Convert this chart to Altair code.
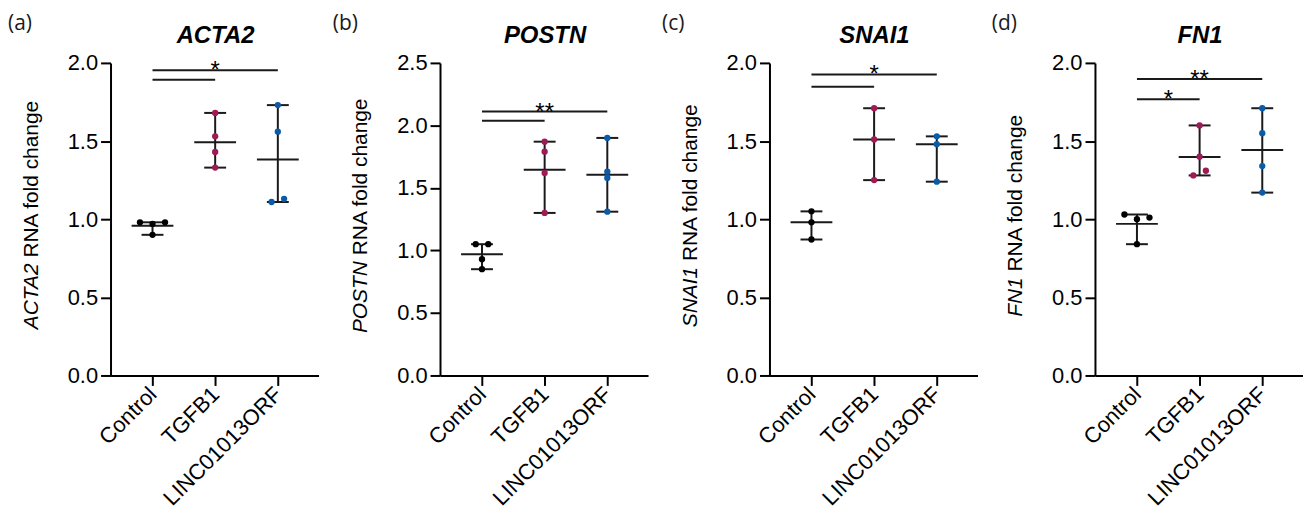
import altair as alt
import pandas as pd

# ---------------- data ----------------
categories = ["Control", "TGFB1", "LINC01013ORF"]
genes = ["ACTA2", "POSTN", "SNAI1", "FN1"]
panel_tags = ["(a)", "(b)", "(c)", "(d)"]
y_max = [2.0, 2.5, 2.0, 2.0]
y_step = [0.5, 0.5, 0.5, 0.5]

acta2_control = [0.98, 0.97, 0.98, 0.90]
acta2_tgfb1 = [1.68, 1.53, 1.43, 1.33]
acta2_linc = [1.73, 1.56, 1.11, 1.13]

postn_control = [1.05, 1.05, 0.93, 0.85]
postn_tgfb1 = [1.87, 1.79, 1.62, 1.30]
postn_linc = [1.90, 1.63, 1.58, 1.31]

snai1_control = [1.05, 0.98, 0.87]
snai1_tgfb1 = [1.71, 1.51, 1.25]
snai1_linc = [1.53, 1.48, 1.24]

fn1_control = [1.03, 1.00, 1.01, 0.84]
fn1_tgfb1 = [1.60, 1.40, 1.31, 1.28]
fn1_linc = [1.71, 1.55, 1.34, 1.17]

center_stat = ["mean", "mean", "median", "mean"]

# significance brackets (gene index, from group, to group, height, label)
sig_panel = [0, 0, 1, 1, 2, 2, 3, 3]
sig_from = [0, 0, 0, 0, 0, 0, 0, 0]
sig_to = [2, 1, 2, 1, 2, 1, 2, 1]
sig_height = [1.953, 1.893, 2.111, 2.038, 1.926, 1.847, 1.897, 1.767]
sig_label = ["*", "", "**", "", "*", "", "**", "*"]

values = [
    [acta2_control, acta2_tgfb1, acta2_linc],
    [postn_control, postn_tgfb1, postn_linc],
    [snai1_control, snai1_tgfb1, snai1_linc],
    [fn1_control, fn1_tgfb1, fn1_linc],
]

# ---------------- layout / style ----------------
W, H = 209, 314
X_DOMAIN = [-0.67, 2.65]
tag_dx = [-103, -107.7, -108, -103.6]
colors = ["#000000", "#9E1B56", "#0B5CA8"]
LINE = "#1a1a1a"
FONT = "Liberation Sans"
FS = 21

ARIAL = {"A": 667, "C": 722, "T": 611, "2": 556, "P": 667, "O": 778, "S": 667,
         "N": 722, "I": 278, "1": 556, "F": 611, "R": 722, " ": 278, "f": 278,
         "o": 556, "l": 222, "d": 556, "c": 500, "h": 556, "a": 556, "n": 556,
         "g": 556, "e": 556}


def text_w(s, fs):
    return sum(ARIAL.get(ch, 556) for ch in s) / 1000 * fs


def dodge(vals, px_per_unit, thr=5.5):
    order = sorted(range(len(vals)), key=lambda k: vals[k])
    offs = [0.0] * len(vals)
    clusters, cur = [], [order[0]]
    for a, b in zip(order, order[1:]):
        if (vals[b] - vals[a]) * px_per_unit < thr:
            cur.append(b)
        else:
            clusters.append(cur)
            cur = [b]
    clusters.append(cur)
    for cl in clusters:
        n = len(cl)
        if n == 2:
            pat = [-0.1, 0.1]
        elif n == 3:
            pat = [0.0, 0.2, -0.2]
        else:
            pat = [(j - (n - 1) / 2) * 0.2 for j in range(n)]
        for k, o in zip(cl, pat):
            offs[k] = o
    return offs


label_expr = " : ".join(
    f"datum.value == {i} ? '{c}'" for i, c in enumerate(categories[:-1])
) + f" : '{categories[-1]}'"


def make_panel(i):
    rows = []
    ppu = H / y_max[i]
    for g, vals in enumerate(values[i]):
        offs = dodge(vals, ppu)
        for v, o in zip(vals, offs):
            rows.append({"g": g, "cat": categories[g], "v": v, "xp": g + o})
    df = pd.DataFrame(rows)

    xs = alt.Scale(domain=X_DOMAIN, nice=False, zero=False)
    ticks = [round(k * y_step[i], 2) for k in range(int(round(y_max[i] / y_step[i])) + 1)]
    ys = alt.Scale(domain=[0, y_max[i]], nice=False, zero=True)
    xax = alt.Axis(values=[0, 1, 2], labelExpr=label_expr, title=None, labelAngle=-45,
                   labelAlign="right", labelBaseline="middle", labelFlush=False,
                   labelOverlap=False, labelPadding=5)
    yax = alt.Axis(values=ticks, format=".1f", title=None, labelFlush=False,
                   labelOverlap=False)

    def X(f):
        return alt.X(f, scale=xs, axis=xax)

    def Y(f):
        return alt.Y(f, scale=ys, axis=yax)

    base = alt.Chart(df)
    rng = base.mark_rule(strokeWidth=2, color=LINE).encode(
        x=X("g:Q"), y=Y("min(v):Q"), y2="max(v):Q")
    lo = base.mark_tick(orient="horizontal", size=22, thickness=2, color=LINE, opacity=1).encode(
        x=X("g:Q"), y=Y("min(v):Q"))
    hi = base.mark_tick(orient="horizontal", size=22, thickness=2, color=LINE, opacity=1).encode(
        x=X("g:Q"), y=Y("max(v):Q"))
    ctr = base.mark_tick(orient="horizontal", size=42, thickness=2, color=LINE, opacity=1).encode(
        x=X("g:Q"), y=Y(f"{center_stat[i]}(v):Q"))
    pts = base.mark_circle(size=40, opacity=1).encode(
        x=X("xp:Q"), y=Y("v:Q"),
        color=alt.Color("cat:N", scale=alt.Scale(domain=categories, range=colors), legend=None))

    sig = pd.DataFrame([
        {"x1": sig_from[k], "x2": sig_to[k], "y": sig_height[k], "lab": sig_label[k]}
        for k in range(len(sig_panel)) if sig_panel[k] == i
    ])
    sbase = alt.Chart(sig)
    srule = sbase.mark_rule(strokeWidth=2, color=LINE).encode(
        x=X("x1:Q"), x2="x2:Q", y=Y("y:Q"))
    stext = sbase.transform_calculate(xm="(datum.x1 + datum.x2) / 2").mark_text(
        font=FONT, fontSize=24, color="black", baseline="alphabetic", dy=8).encode(
        x=X("xm:Q"), y=Y("y:Q"), text="lab:N")

    gene = genes[i]
    rest = "RNA fold change"
    w_it = text_w(gene, FS)
    w_rg = text_w(" " + rest, FS)
    c = H / 2 - 4
    anchor = c + (w_rg - w_it) / 2
    tdf = pd.DataFrame({"it": [gene], "rg": [rest], "tag": [panel_tags[i]]})
    tb = alt.Chart(tdf)
    yt1 = tb.mark_text(angle=270, align="right", baseline="middle", font=FONT, fontSize=FS,
                       fontStyle="italic", color="black").encode(
        text="it:N", x=alt.value(-79), y=alt.value(anchor))
    yt2 = tb.mark_text(angle=270, align="left", baseline="middle", font=FONT, fontSize=FS,
                       color="black").encode(
        text="rg:N", x=alt.value(-79), y=alt.value(anchor - text_w(" ", FS)))
    tag = tb.mark_text(align="left", baseline="alphabetic", font="Open Sans", fontSize=21,
                       color="#1a1a1a").encode(
        text="tag:N", x=alt.value(tag_dx[i]), y=alt.value(-33))
    ttl = tb.mark_text(align="center", baseline="alphabetic", font=FONT, fontSize=24,
                       fontWeight="bold", fontStyle="italic", color="black").encode(
        text="it:N", x=alt.value(W / 2 + 1), y=alt.value(-20))

    return alt.layer(rng, lo, hi, ctr, srule, stext, pts, yt1, yt2, tag, ttl).properties(
        width=W, height=H)


chart = alt.hconcat(*[make_panel(i) for i in range(4)], spacing=14).properties(
    padding={"left": 0, "top": 4, "right": 0, "bottom": 0}
).configure_view(stroke=None).configure_axis(
    domainColor="black", domainWidth=2, tickColor="black", tickWidth=2, tickSize=10,
    labelFont=FONT, labelFontSize=22, labelColor="black", labelPadding=3, grid=False
).configure_concat(spacing=14)

chart.save("out.html", embed_options={"renderer": "svg", "actions": False})
